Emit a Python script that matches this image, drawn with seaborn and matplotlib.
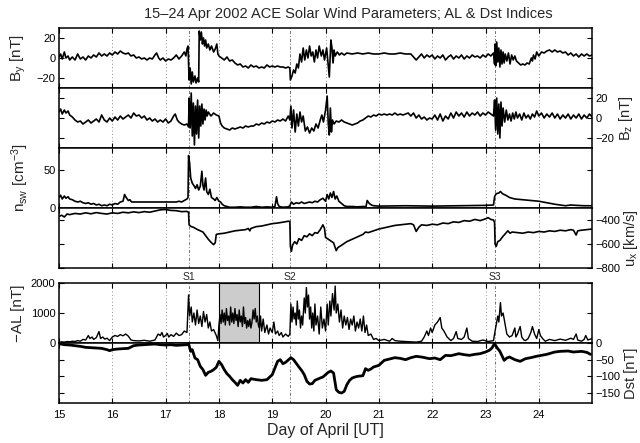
import matplotlib
matplotlib.use('Agg')
import matplotlib.pyplot as plt
import matplotlib.transforms as mtransforms
import seaborn as sns

sns.set_style('ticks')
plt.rcParams['font.family'] = ['Liberation Sans', 'DejaVu Sans']
plt.rcParams['mathtext.fontset'] = 'custom'
plt.rcParams['mathtext.rm'] = 'Liberation Sans'
plt.rcParams['mathtext.it'] = 'Liberation Sans:italic'

# ---- data (day of April, value) ----
by_t = [15.00, 15.03, 15.06, 15.10, 15.13, 15.17, 15.20, 15.25, 15.30, 15.35, 15.40, 15.45, 15.50, 15.55, 15.60,
        15.65, 15.70, 15.75, 15.80, 15.85, 15.90, 15.95, 16.00, 16.05, 16.10, 16.15, 16.20, 16.25, 16.30, 16.35,
        16.40, 16.45, 16.50, 16.55, 16.60, 16.65, 16.70, 16.75, 16.80, 16.83, 16.87, 16.90, 16.95, 17.00, 17.05,
        17.10, 17.15, 17.20, 17.25, 17.30, 17.35, 17.38, 17.40, 17.42, 17.43, 17.44, 17.46, 17.48, 17.50, 17.52,
        17.55, 17.57, 17.60, 17.62, 17.63, 17.65, 17.67, 17.69, 17.71, 17.73, 17.75, 17.77, 17.80, 17.83, 17.86,
        17.90, 17.93, 17.96, 17.98, 18.00, 18.05, 18.10, 18.15, 18.20, 18.25, 18.30, 18.35, 18.40, 18.45, 18.50,
        18.55, 18.60, 18.65, 18.70, 18.75, 18.80, 18.85, 18.90, 18.95, 19.00, 19.05, 19.10, 19.15, 19.20, 19.25,
        19.30, 19.33, 19.34, 19.37, 19.40, 19.43, 19.46, 19.49, 19.52, 19.55, 19.58, 19.61, 19.64, 19.67, 19.70,
        19.73, 19.76, 19.79, 19.82, 19.85, 19.88, 19.92, 19.95, 19.98, 20.02, 20.05, 20.07, 20.09, 20.10, 20.12,
        20.14, 20.16, 20.18, 20.22, 20.26, 20.30, 20.35, 20.40, 20.50, 20.60, 20.70, 20.80, 20.90, 21.00, 21.10,
        21.20, 21.30, 21.40, 21.50, 21.60, 21.65, 21.70, 21.75, 21.80, 21.85, 21.90, 21.95, 22.00, 22.05, 22.10,
        22.15, 22.20, 22.25, 22.30, 22.35, 22.40, 22.45, 22.50, 22.55, 22.60, 22.65, 22.70, 22.75, 22.80, 22.85,
        22.90, 22.95, 23.00, 23.05, 23.10, 23.15, 23.17, 23.18, 23.19, 23.21, 23.23, 23.25, 23.27, 23.29, 23.31,
        23.33, 23.35, 23.37, 23.40, 23.43, 23.46, 23.49, 23.52, 23.55, 23.58, 23.62, 23.66, 23.70, 23.74, 23.78,
        23.82, 23.86, 23.88, 23.90, 23.93, 23.96, 24.00, 24.05, 24.10, 24.15, 24.20, 24.25, 24.30, 24.35, 24.40,
        24.45, 24.50, 24.55, 24.60, 24.65, 24.70, 24.75, 24.80, 24.85, 24.90, 24.95, 25.00]
by_v = [1, 4, -1, 6, 0, 2, -2, 1, -2, 4, -1, 1, -2, 2, 0,
        3, 1, 5, 2, 4, 2, 5, 3, 6, 4, 7, 5, 4, 5, 2,
        3, 0, 1, -1, 0, -2, 0, -1, 3, 5, 0, -2, 0, -3, -1,
        -2, 0, 3, -1, 2, 6, 2, 9, 12, -5, -22, -10, -26, -14, -24,
        -18, -25, -20, -24, 27, 18, 26, 14, 20, 12, 18, 10, 14, 8, 12,
        6, 9, 14, 4, 2, 0, -2, 1, -3, -2, -5, -7, -6, -9, -8,
        -10, -7, -9, -8, -10, -9, -10, -7, -9, -8, -9, -8, -9, -9, -10,
        -9, -10, -22, -18, -12, -15, -6, -10, 4, -4, 10, -2, 8, 0, 12,
        2, 6, -4, 8, 0, 12, 2, 8, -2, 10, -8, -19, 5, 18, 10,
        -5, 8, 2, 6, 3, 5, 3, 5, 4, 5, 4, 5, 4, 4, 5,
        4, 4, 5, 4, 4, 1, -2, 1, 4, 0, 3, 1, 3, -1, 2,
        0, 3, -2, 1, 3, -1, 2, 0, 3, -1, 2, 0, 3, 1, 2,
        0, 3, 1, 4, 2, 5, -6, 14, -8, 16, -4, 10, -9, 8, -6,
        6, -5, 4, -3, 5, -6, 3, -2, 2, -3, -5, -7, -6, -7, -5,
        -6, 0, -3, 3, -1, 6, 2, 6, 5, 7, 8, 6, 8, 6, 7,
        5, 6, 3, 5, 2, 4, 1, 4, 2, 4, 2, 3]

bz_t = [15.00, 15.03, 15.06, 15.10, 15.13, 15.17, 15.20, 15.25, 15.30, 15.35, 15.40, 15.45, 15.50, 15.55, 15.60,
        15.65, 15.70, 15.75, 15.80, 15.85, 15.90, 15.95, 16.00, 16.05, 16.10, 16.15, 16.20, 16.25, 16.30, 16.35,
        16.40, 16.45, 16.50, 16.55, 16.60, 16.65, 16.70, 16.75, 16.80, 16.85, 16.90, 16.95, 17.00, 17.05, 17.10,
        17.15, 17.18, 17.22, 17.25, 17.30, 17.35, 17.40, 17.43, 17.44, 17.46, 17.48, 17.50, 17.52, 17.54, 17.56,
        17.58, 17.60, 17.62, 17.64, 17.66, 17.68, 17.70, 17.72, 17.74, 17.76, 17.78, 17.80, 17.85, 17.90, 17.95,
        18.00, 18.03, 18.06, 18.10, 18.15, 18.20, 18.25, 18.30, 18.35, 18.40, 18.45, 18.50, 18.55, 18.60, 18.65,
        18.70, 18.75, 18.80, 18.85, 18.90, 18.95, 19.00, 19.05, 19.10, 19.15, 19.20, 19.25, 19.30, 19.33, 19.35,
        19.37, 19.40, 19.43, 19.46, 19.49, 19.52, 19.55, 19.58, 19.62, 19.66, 19.70, 19.74, 19.78, 19.82, 19.86,
        19.90, 19.93, 19.96, 20.00, 20.03, 20.05, 20.07, 20.09, 20.11, 20.13, 20.16, 20.20, 20.25, 20.30, 20.35,
        20.40, 20.45, 20.50, 20.55, 20.60, 20.65, 20.70, 20.75, 20.80, 20.85, 20.90, 20.95, 21.00, 21.05, 21.10,
        21.15, 21.20, 21.25, 21.30, 21.35, 21.40, 21.45, 21.50, 21.55, 21.60, 21.65, 21.70, 21.75, 21.80, 21.85,
        21.90, 21.95, 22.00, 22.05, 22.10, 22.15, 22.20, 22.25, 22.30, 22.35, 22.40, 22.45, 22.50, 22.55, 22.60,
        22.65, 22.70, 22.75, 22.80, 22.85, 22.90, 22.95, 23.00, 23.05, 23.10, 23.15, 23.17, 23.19, 23.21, 23.23,
        23.25, 23.27, 23.29, 23.31, 23.33, 23.36, 23.39, 23.42, 23.45, 23.48, 23.51, 23.54, 23.57, 23.60, 23.64,
        23.68, 23.72, 23.76, 23.80, 23.84, 23.88, 23.92, 23.96, 24.00, 24.05, 24.10, 24.15, 24.20, 24.25, 24.30,
        24.35, 24.40, 24.45, 24.50, 24.55, 24.60, 24.65, 24.70, 24.75, 24.80, 24.85, 24.90, 24.95, 25.00]
bz_v = [6, 9, 4, 8, 5, 7, 3, 1, -2, -4, -3, -6, -4, -2, -5,
        -3, -1, -4, 3, -2, -4, 0, -3, 1, -2, 2, -1, 1, 3, 0,
        5, 2, 3, 0, 2, -2, 0, -3, -1, -4, -2, -4, -1, -5, -3,
        2, 4, -2, -4, -6, -7, -6, -9, 20, -10, 25, -18, 15, -27, 12,
        -16, 18, -20, 12, -8, 14, -6, 9, -2, 8, 2, 6, 2, 5, 3,
        2, -5, -8, -10, -11, -12, -10, -11, -10, -9, -10, -8, -9, -8, -8,
        -6, -7, -5, -6, -4, -5, -3, -4, -2, -3, -1, -3, 2, -2, 12,
        -10, 8, -14, 4, -8, 6, -4, 2, -13, -9, -15, -10, -13, -6, -10,
        -2, 3, -4, 8, 22, -5, -17, 10, -14, -2, -6, -3, -4, -2, -4,
        -5, -6, -7, -6, -5, -3, -2, 0, 2, 1, 3, 2, 4, 3, 4,
        3, 4, 3, 5, 3, 4, 3, 4, 5, 2, 5, 0, 3, -1, 1,
        -2, 0, -1, 3, -2, 4, -3, 2, -1, 5, 0, 6, 2, 5, 1,
        6, 2, 5, 3, 6, 2, 5, 3, 6, 4, 2, 18, -12, 20, -16,
        14, -20, 16, -8, 10, -4, 8, -2, 4, -3, 5, -1, 6, 0, 4,
        -2, 5, 0, 3, -1, 4, 1, 7, 2, 5, 0, 4, 1, 5, 0,
        4, -1, 3, 0, 4, -1, 3, 0, 4, -1, 3, 0, 4, 1]

nsw_t = [15.00, 15.03, 15.06, 15.10, 15.13, 15.17, 15.20, 15.25, 15.30, 15.35, 15.40, 15.45, 15.50, 15.55, 15.60,
         15.65, 15.70, 15.75, 15.80, 15.85, 15.90, 15.95, 16.00, 16.05, 16.10, 16.15, 16.20, 16.23, 16.26, 16.30,
         16.33, 16.36, 16.40, 17.20, 17.25, 17.30, 17.35, 17.40, 17.42, 17.43, 17.45, 17.47, 17.50, 17.53, 17.56,
         17.59, 17.62, 17.65, 17.68, 17.70, 17.72, 17.75, 17.77, 17.80, 17.83, 17.86, 17.90, 17.93, 17.96, 18.00,
         18.03, 18.06, 18.10, 18.15, 18.20, 18.30, 18.40, 18.50, 18.60, 18.70, 18.80, 18.90, 19.00, 19.05, 19.08,
         19.10, 19.13, 19.20, 19.30, 19.33, 19.36, 19.40, 19.45, 19.50, 19.55, 19.60, 19.65, 19.70, 19.75, 19.80,
         19.85, 19.90, 19.95, 20.00, 20.03, 20.06, 20.09, 20.12, 20.15, 20.18, 20.21, 20.25, 20.30, 20.35, 20.40,
         20.50, 20.60, 20.70, 20.76, 20.78, 20.82, 20.86, 20.90, 21.00, 21.50, 22.00, 22.50, 23.00, 23.15, 23.17,
         23.20, 23.25, 23.28, 23.32, 23.38, 23.45, 23.55, 23.70, 23.85, 24.00, 24.15, 24.30, 24.40, 24.50, 24.60,
         24.70, 24.85, 25.00]
nsw_v = [14, 17, 12, 16, 13, 15, 12, 11, 9, 8, 9, 7, 6, 7, 5,
         6, 4, 5, 3, 4, 3, 5, 4, 6, 5, 8, 9, 18, 14, 10,
         11, 8, 8, 8, 9, 8, 10, 12, 14, 70, 60, 40, 33, 30, 26,
         31, 24, 29, 49, 30, 24, 40, 22, 18, 25, 14, 12, 10, 14, 9,
         8, 5, 3, 2, 1, 1, 1.5, 1, 1, 2, 1, 1.5, 1, 2, 15,
         6, 2, 1, 1.5, 3, 8, 5, 7, 6, 8, 6, 7, 8, 7, 9,
         8, 11, 13, 9, 18, 12, 20, 14, 22, 12, 16, 9, 6, 3, 2,
         2, 1.5, 2, 2, 10, 6, 4, 3, 2.5, 3, 2.5, 3, 3.5, 4, 15,
         19, 20, 22, 19, 17, 14, 12, 11, 10, 9, 7, 5, 4, 3, 4,
         3.5, 3, 3]

ux_t = [15.00, 15.05, 15.10, 15.15, 15.20, 15.30, 15.40, 15.50, 15.60, 15.70, 15.80, 15.90, 16.00, 16.10, 16.20,
        16.30, 16.40, 16.50, 16.60, 16.70, 16.80, 16.90, 17.00, 17.10, 17.20, 17.30, 17.40, 17.43, 17.44, 17.48,
        17.52, 17.56, 17.60, 17.65, 17.70, 17.75, 17.80, 17.85, 17.90, 17.93, 17.95, 18.00, 18.10, 18.20, 18.30,
        18.40, 18.50, 18.55, 18.58, 18.60, 18.70, 18.80, 18.90, 19.00, 19.10, 19.20, 19.30, 19.33, 19.34, 19.36,
        19.38, 19.42, 19.46, 19.50, 19.55, 19.60, 19.65, 19.70, 19.75, 19.80, 19.85, 19.90, 19.95, 19.98, 20.00,
        20.05, 20.10, 20.15, 20.20, 20.23, 20.30, 20.40, 20.50, 20.60, 20.70, 20.75, 20.80, 20.90, 21.00, 21.10,
        21.20, 21.30, 21.40, 21.50, 21.60, 21.65, 21.70, 21.75, 21.80, 21.90, 22.00, 22.10, 22.20, 22.30, 22.40,
        22.50, 22.60, 22.70, 22.80, 22.90, 23.00, 23.05, 23.10, 23.15, 23.17, 23.18, 23.20, 23.23, 23.27, 23.32,
        23.38, 23.42, 23.46, 23.50, 23.60, 23.70, 23.80, 23.90, 24.00, 24.10, 24.20, 24.30, 24.40, 24.50, 24.60,
        24.65, 24.70, 24.73, 24.80, 24.90, 25.00]
ux_v = [-370, -360, -375, -350, -355, -345, -350, -340, -348, -338, -345, -350, -340, -345, -335,
        -340, -332, -338, -330, -335, -325, -315, -312, -320, -322, -330, -328, -335, -440, -455,
        -460, -470, -480, -490, -500, -530, -560, -585, -605, -590, -520, -515, -510, -500, -490,
        -485, -480, -470, -490, -470, -455, -450, -440, -430, -425, -418, -410, -412, -620, -660,
        -610, -580, -600, -555, -570, -530, -540, -515, -530, -505, -510, -480, -440, -470, -545,
        -560, -575, -590, -655, -630, -610, -580, -560, -540, -520, -500, -505, -490, -475, -465,
        -455, -445, -440, -435, -430, -440, -495, -460, -440, -445, -435, -440, -425, -430, -415,
        -420, -405, -410, -395, -405, -390, -380, -395, -400, -420, -600, -620, -580, -570, -540,
        -510, -490, -510, -500, -505, -510, -500, -505, -495, -500, -490, -495, -485, -490, -480,
        -485, -525, -490, -485, -480, -475]

al_t = [15.00, 15.05, 15.10, 15.15, 15.20, 15.25, 15.30, 15.35, 15.40, 15.45, 15.50, 15.55, 15.58, 15.62, 15.65,
        15.70, 15.75, 15.78, 15.82, 15.86, 15.90, 15.95, 16.00, 16.05, 16.10, 16.15, 16.20, 16.25, 16.30, 16.35,
        16.40, 16.50, 16.60, 16.70, 16.80, 16.83, 16.86, 16.90, 16.93, 16.96, 17.00, 17.03, 17.06, 17.10, 17.15,
        17.20, 17.25, 17.30, 17.35, 17.40, 17.43, 17.45, 17.48, 17.50, 17.53, 17.56, 17.59, 17.62, 17.65, 17.68,
        17.71, 17.74, 17.77, 17.80, 17.83, 17.86, 17.90, 17.95, 17.98, 18.00, 18.02, 18.04, 18.06, 18.08, 18.10,
        18.12, 18.14, 18.16, 18.18, 18.20, 18.22, 18.24, 18.26, 18.28, 18.30, 18.32, 18.34, 18.36, 18.38, 18.40,
        18.42, 18.44, 18.46, 18.48, 18.50, 18.52, 18.54, 18.56, 18.58, 18.60, 18.62, 18.64, 18.66, 18.68, 18.70,
        18.72, 18.74, 18.76, 18.78, 18.80, 18.83, 18.86, 18.90, 18.93, 18.96, 19.00, 19.03, 19.06, 19.10, 19.13,
        19.17, 19.20, 19.25, 19.30, 19.33, 19.35, 19.37, 19.39, 19.41, 19.43, 19.45, 19.47, 19.49, 19.51, 19.53,
        19.55, 19.57, 19.60, 19.62, 19.64, 19.66, 19.68, 19.70, 19.72, 19.74, 19.76, 19.78, 19.80, 19.82, 19.85,
        19.88, 19.91, 19.94, 19.97, 20.00, 20.03, 20.05, 20.08, 20.10, 20.13, 20.16, 20.18, 20.20, 20.23, 20.26,
        20.29, 20.32, 20.35, 20.38, 20.41, 20.44, 20.47, 20.50, 20.53, 20.56, 20.59, 20.62, 20.65, 20.68, 20.71,
        20.74, 20.77, 20.80, 20.85, 20.90, 20.95, 21.00, 21.10, 21.20, 21.25, 21.30, 21.40, 21.50, 21.60, 21.70,
        21.80, 21.85, 21.90, 21.93, 21.97, 22.00, 22.05, 22.10, 22.15, 22.18, 22.22, 22.28, 22.35, 22.40, 22.45,
        22.48, 22.55, 22.60, 22.65, 22.68, 22.75, 22.85, 22.95, 23.05, 23.15, 23.17, 23.20, 23.23, 23.25, 23.28,
        23.30, 23.33, 23.36, 23.40, 23.45, 23.50, 23.55, 23.57, 23.60, 23.65, 23.68, 23.72, 23.75, 23.80, 23.85,
        23.88, 23.92, 23.96, 24.00, 24.03, 24.07, 24.12, 24.20, 24.30, 24.40, 24.50, 24.60, 24.65, 24.70, 24.73,
        24.80, 24.85, 24.88, 24.92, 25.00]
al_v = [20, 40, 30, 50, 40, 60, 50, 80, 60, 120, 100, 250, 150, 200, 120,
        180, 380, 150, 200, 130, 160, 80, 200, 250, 220, 280, 240, 300, 230, 100,
        80, 70, 90, 60, 100, 200, 300, 250, 350, 200, 250, 320, 200, 280, 220,
        330, 250, 280, 400, 350, 1600, 900, 1200, 700, 1000, 600, 1100, 650, 900, 550,
        1050, 700, 950, 500, 700, 400, 450, 250, 80, 600, 950, 650, 1100, 700, 1000,
        600, 1150, 750, 900, 600, 1200, 700, 1000, 650, 1150, 750, 950, 550, 1100, 700,
        900, 550, 1200, 650, 850, 500, 750, 550, 800, 500, 700, 1100, 800, 1150, 700,
        900, 600, 500, 900, 400, 800, 350, 600, 300, 500, 350, 700, 300, 400, 250,
        350, 200, 300, 220, 300, 1300, 700, 1200, 800, 1000, 600, 1400, 800, 1100, 500,
        900, 600, 1500, 1000, 1850, 1200, 1600, 800, 1200, 500, 1000, 400, 1300, 600, 900,
        300, 1200, 500, 800, 400, 1300, 600, 1400, 900, 1650, 1100, 1900, 1000, 1300, 700,
        1100, 500, 900, 600, 850, 450, 800, 600, 900, 400, 700, 500, 800, 400, 900,
        350, 600, 250, 300, 120, 150, 80, 120, 60, 150, 80, 60, 50, 40, 30,
        60, 200, 400, 250, 500, 350, 600, 700, 850, 500, 400, 200, 80, 150, 380,
        150, 120, 200, 500, 150, 60, 50, 100, 50, 80, 300, 600, 900, 700, 1350,
        900, 1000, 700, 300, 200, 250, 500, 200, 300, 550, 200, 100, 80, 150, 350,
        550, 300, 150, 450, 250, 150, 60, 120, 80, 130, 90, 160, 120, 300, 100,
        60, 120, 250, 100, 150]

dst_t = [15.00, 15.10, 15.20, 15.30, 15.40, 15.50, 15.60, 15.70, 15.80, 15.90, 15.95, 16.00, 16.10, 16.20, 16.30,
         16.40, 16.50, 16.60, 16.70, 16.80, 16.90, 17.00, 17.10, 17.20, 17.30, 17.40, 17.43, 17.47, 17.50, 17.55,
         17.60, 17.65, 17.70, 17.75, 17.80, 17.85, 17.90, 17.95, 18.00, 18.05, 18.10, 18.15, 18.20, 18.25, 18.30,
         18.35, 18.40, 18.45, 18.50, 18.55, 18.60, 18.70, 18.80, 18.90, 19.00, 19.05, 19.10, 19.15, 19.20, 19.25,
         19.35, 19.40, 19.50, 19.55, 19.60, 19.65, 19.70, 19.75, 19.80, 19.90, 19.95, 20.00, 20.05, 20.10, 20.15,
         20.20, 20.25, 20.30, 20.35, 20.40, 20.45, 20.50, 20.55, 20.60, 20.70, 20.75, 20.80, 20.85, 20.90, 21.00,
         21.10, 21.20, 21.30, 21.40, 21.50, 21.60, 21.70, 21.80, 21.95, 22.05, 22.15, 22.25, 22.35, 22.50, 22.60,
         22.70, 22.80, 22.90, 23.00, 23.07, 23.12, 23.17, 23.22, 23.27, 23.35, 23.40, 23.45, 23.55, 23.65, 23.75,
         23.85, 23.95, 24.05, 24.15, 24.30, 24.40, 24.55, 24.65, 24.80, 24.90, 24.97]
dst_v = [-2, -5, -6, -8, -10, -13, -14, -15, -16, -20, -23, -20, -18, -17, -16,
         -8, -6, -5, -4, -3, -5, -6, -5, -7, -6, -5, -2, -25, -20, -45,
         -50, -70, -80, -97, -88, -85, -80, -73, -55, -65, -80, -92, -100, -110, -118,
         -127, -112, -120, -110, -118, -107, -110, -112, -110, -95, -75, -55, -50, -62, -58,
         -44, -50, -72, -82, -95, -115, -123, -122, -112, -105, -102, -95, -88, -84, -90,
         -140, -148, -150, -145, -125, -112, -105, -102, -100, -98, -77, -82, -78, -72, -67,
         -52, -48, -44, -46, -50, -44, -40, -42, -47, -45, -50, -37, -38, -32, -35,
         -37, -34, -32, -27, -22, -15, -2, -15, -25, -52, -45, -42, -50, -55, -47,
         -44, -40, -37, -34, -27, -25, -24, -27, -25, -28, -34]

day_ticks = list(range(15, 25))
shock_t = [17.43, 19.34, 23.17]
shock_names = ['S1', 'S2', 'S3']
shade_span = [18.0, 18.75]

# ---- layout ----
fig = plt.figure(figsize=(6.4, 4.43), dpi=100)
left, width, height = 0.0922, 0.833, 0.1354
bottoms = [0.8014, 0.6659, 0.5305, 0.395, 0.2257, 0.0903]
axes = [fig.add_axes([left, b, width, height]) for b in bottoms]

panels = [
    (by_t, by_v, (-30, 30), [-20, 0, 20], 'left', 'B$_\\mathregular{y}$ [nT]', 1.2),
    (bz_t, bz_v, (-30, 30), [-20, 0, 20], 'right', 'B$_\\mathregular{z}$ [nT]', 1.2),
    (nsw_t, nsw_v, (0, 80), [0, 50], 'left', 'n$_\\mathregular{sw}$ [cm$^\\mathregular{-3}$]', 1.2),
    (ux_t, ux_v, (-800, -300), [-800, -600, -400], 'right', 'u$_\\mathregular{x}$ [km/s]', 1.2),
    (al_t, al_v, (0, 2000), [0, 1000, 2000], 'left', '\u2212AL [nT]', 1.0),
    (dst_t, dst_v, (-180, 0), [-150, -100, -50, 0], 'right', 'Dst [nT]', 2.0),
]
label_x = [-0.058, 1.047, -0.052, 1.056, -0.064, 1.060]

for i, (ax, (t, v, ylim, yticks, side, label, lw)) in enumerate(zip(axes, panels)):
    for d in day_ticks[1:]:
        ax.axvline(d, color='0.55', lw=0.7, ls=(0, (1, 2.5)), zorder=0)
    for s in shock_t:
        ax.axvline(s, color='0.45', lw=0.7, ls=(0, (3, 2, 1, 2)), zorder=0)
    if i == 4:
        ax.axvspan(shade_span[0], shade_span[1], facecolor='0.8', edgecolor='k', lw=0.8, zorder=1)
    sns.lineplot(x=t, y=v, ax=ax, color='k', lw=lw, estimator=None, sort=False, zorder=3)
    ax.set_xlim(15, 25)
    ax.set_ylim(*ylim)
    ax.set_xticks(day_ticks)
    ax.set_yticks(yticks)
    ax.tick_params(axis='both', direction='in', top=True, right=True, length=3.5, width=0.8,
                   labelsize=8, colors='k')
    ax.tick_params(axis='y', pad=2.5, labelleft=(side == 'left'), labelright=(side == 'right'))
    ax.tick_params(axis='x', pad=5, labelbottom=(i == 5))
    for sp in ax.spines.values():
        sp.set_linewidth(1.1)
        sp.set_color('k')
    ax.set_xlabel('')
    ax.set_ylabel(label, fontsize=11 if side == 'left' else 10.5)
    if side == 'right':
        ax.yaxis.set_label_position('right')
    ax.yaxis.set_label_coords(label_x[i], 0.5)

axes[5].set_xlabel('Day of April [UT]', fontsize=11.5, labelpad=2)

trans = mtransforms.blended_transform_factory(axes[4].transData, axes[4].transAxes)
for s, name in zip(shock_t, shock_names):
    axes[4].text(s, 1.02, name, transform=trans, ha='center', va='bottom', fontsize=7.5)

fig.text(0.545, 0.968, '15\u201324 Apr 2002 ACE Solar Wind Parameters; AL & Dst Indices',
         ha='center', va='center', fontsize=10.5)

fig.savefig('out.png', dpi=100)
